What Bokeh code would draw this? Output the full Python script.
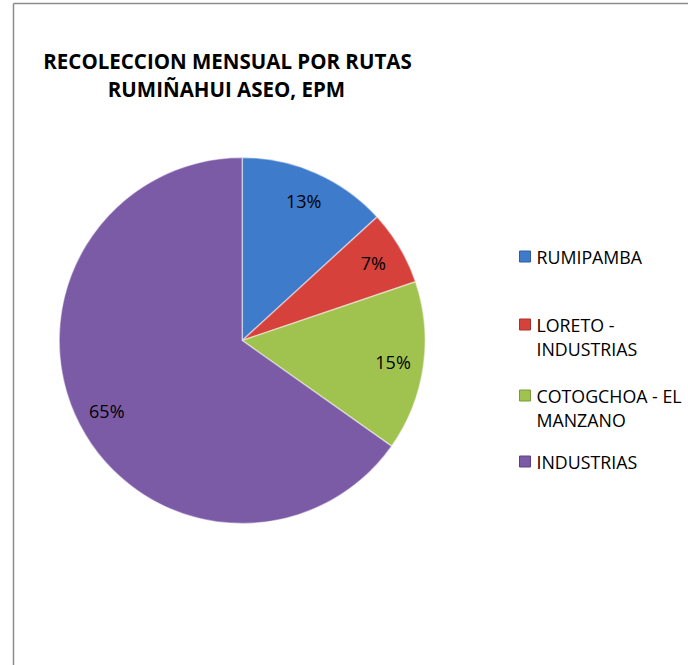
import math
from bokeh.plotting import figure
from bokeh.models import Range1d, ColumnDataSource
from bokeh.core.properties import value
from bokeh.embed import file_html
from bokeh.resources import INLINE

# ---- data ----
routes = ["RUMIPAMBA", "LORETO - INDUSTRIAS", "COTOGCHOA - EL MANZANO", "INDUSTRIAS"]
legend_lines = [["RUMIPAMBA"], ["LORETO -", "INDUSTRIAS"], ["COTOGCHOA - EL", "MANZANO"], ["INDUSTRIAS"]]
shares = [13.2, 6.6, 15.0, 65.2]
colors = ["#3E7BCB", "#D6423B", "#A0C24E", "#7C5BA6"]
edge_colors = ["#2E5E9E", "#A8302B", "#7A9A36", "#5C4282"]
title_lines = ["RECOLECCION MENSUAL POR RUTAS", "RUMIÑAHUI ASEO, EPM"]

# ---- layout (screen pixels of the page) ----
W, H = 688, 665
OX, OY = 0, 0


def X(sx):
    return sx - OX


def Y(sy):
    return H - (sy - OY)


FONT = "Open Sans"
cx, cy, R = 241.7, 340.0, 183.0

p = figure(width=W, height=H, x_range=Range1d(0, W), y_range=Range1d(0, H),
           output_backend="svg", toolbar_location=None, min_border=0)
p.axis.visible = False
p.grid.visible = False
p.outline_line_color = None
p.background_fill_color = "white"
p.border_fill_color = "white"

# chart border (left and top)
p.segment(x0=[X(13), X(13)], y0=[Y(3), Y(3)], x1=[X(13), X(688)], y1=[Y(665), Y(3)],
          line_color="#8C8C8C", line_width=1.5)

# pie
total = sum(shares)
starts, ends, mids = [], [], []
cum = 0.0
for v in shares:
    a0 = math.pi / 2 - 2 * math.pi * cum / total
    cum += v
    a1 = math.pi / 2 - 2 * math.pi * cum / total
    starts.append(a0)
    ends.append(a1)
    mids.append((a0 + a1) / 2)

src = ColumnDataSource(dict(start=starts, end=ends, color=colors, route=routes))
p.wedge(x=X(cx), y=Y(cy), radius=R, radius_units="screen", start_angle="start",
        end_angle="end", direction="clock", fill_color="color",
        line_color="white", line_alpha=0.45, line_width=1.5, source=src)

# percentage labels
lr = 0.833 * R
lx = [X(cx) + lr * math.cos(m) for m in mids]
ly = [Y(cy) + lr * math.sin(m) for m in mids]
lt = [f"{round(100 * v / total)}%" for v in shares]
p.text(x=lx, y=ly, text=lt, text_font=value(FONT), text_font_size="18px",
       text_align="center", text_baseline="middle", text_color="#000000")

# title
p.text(x=[X(227), X(226)], y=[Y(60), Y(88)], text=title_lines,
       text_font=value(FONT), text_font_size="20.5px", text_font_style="bold",
       text_align="center", text_baseline="alphabetic", text_color="#000000")

# legend
leg_y = [256, 324, 395, 461]
p.scatter(x=[X(524.5)] * 4, y=[Y(v) for v in leg_y], marker="square", size=11,
          fill_color=colors, line_color=edge_colors, line_width=1)
tx, ty, tt = [], [], []
for yy, lines in zip(leg_y, legend_lines):
    for i, s in enumerate(lines):
        tx.append(X(536))
        ty.append(Y(yy + 24 * i))
        tt.append(s)
p.text(x=tx, y=ty, text=tt, text_font=value(FONT), text_font_size="17.8px",
       text_align="left", text_baseline="middle", text_color="#000000")

open("out.html", "w").write(file_html(p, INLINE))
